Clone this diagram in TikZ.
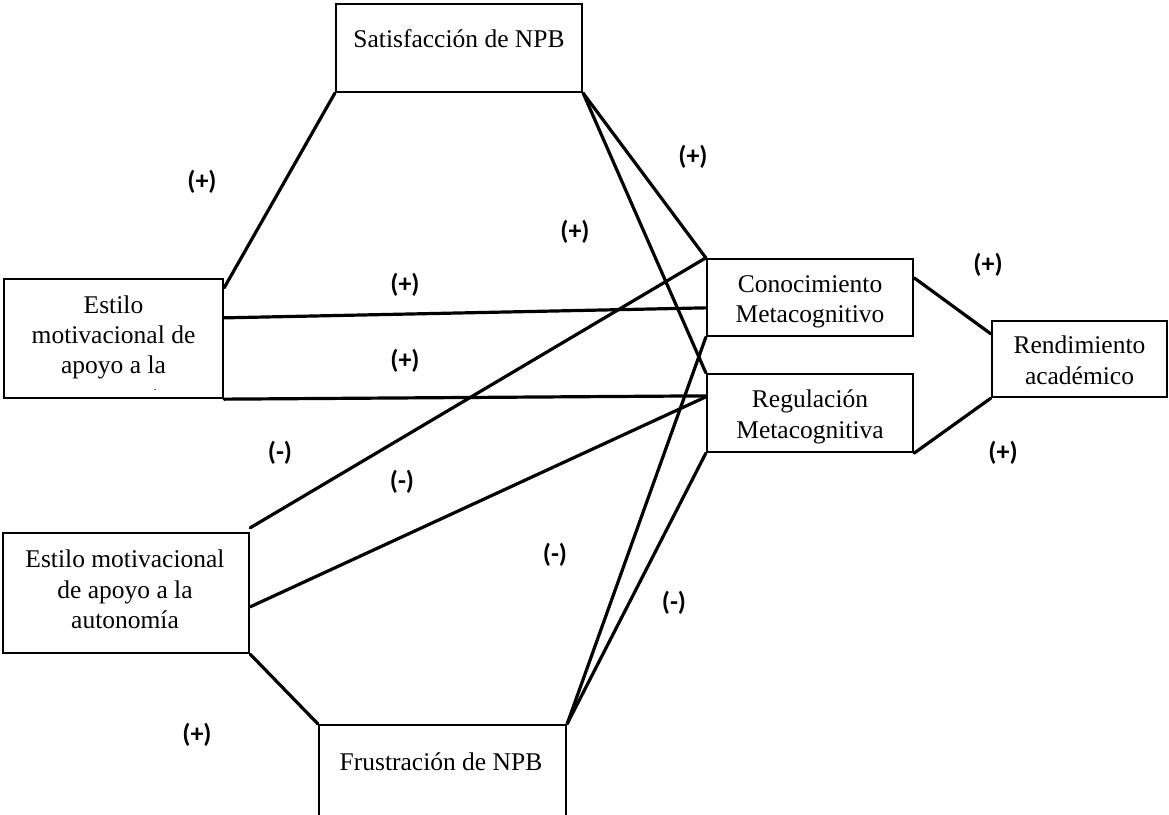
\documentclass[tikz,border=0pt]{standalone}
\usepackage{fontspec}
\setmainfont{Liberation Serif}
\newfontfamily\labfont{Carlito}
\usetikzlibrary{calc}
\begin{document}
\begin{tikzpicture}[x=1pt,y=-1pt,
  box/.style={draw, line width=2.3pt, inner sep=0pt},
  conn/.style={line width=3.2pt, line cap=round},
  txt/.style={anchor=base, inner sep=0pt, font=\fontsize{25.5}{30}\selectfont},
  sign/.style={inner sep=0pt, font=\labfont\bfseries\fontsize{26}{30}\selectfont}]
\clip (0,0) rectangle (1169,814);
\fill[white] (0,0) rectangle (1169,814);
% boxes
\node[box, minimum width=246pt, minimum height=88pt] (sat) at (459,48) {};
\node[box, minimum width=219pt, minimum height=119pt] (b1) at (113.5,338.5) {};
\node[box, minimum width=246pt, minimum height=120pt] (b2) at (126,593) {};
\node[box, minimum width=247pt, minimum height=120pt] (fru) at (442.5,785) {};
\node[box, minimum width=206pt, minimum height=77pt] (con) at (810,297.5) {};
\node[box, minimum width=206pt, minimum height=78pt] (reg) at (810,413) {};
\node[box, minimum width=175pt, minimum height=76pt] (ren) at (1079.5,359) {};
% texts
\node[txt] (tsat) at (459,47) {Satisfacción de NPB};
\node[txt] (tb1a) at (113.5,313) {Estilo};
\node[txt] (tb1b) at (113.5,343) {motivacional de};
\node[txt] (tb1c) at (113.5,373) {apoyo a la};
\node[txt, font=\fontsize{12}{14}\selectfont] (tb1d) at (155,390) {.};
\node[txt] (tb2a) at (125,567) {Estilo motivacional};
\node[txt] (tb2b) at (125,598) {de apoyo a la};
\node[txt] (tb2c) at (125,628) {autonomía};
\node[txt] (tfru) at (441,770) {Frustración de NPB};
\node[txt] (tcona) at (810,292) {Conocimiento};
\node[txt] (tconb) at (810,322) {Metacognitivo};
\node[txt] (trega) at (810,407) {Regulación};
\node[txt] (tregb) at (810,438) {Metacognitiva};
\node[txt] (trena) at (1079.5,353) {Rendimiento};
\node[txt] (trenb) at (1079.5,384) {académico};
% connectors
\draw[conn] ($(b1.north east)+(0,10)$) -- (sat.south west);
\draw[conn] (sat.south east) -- (con.north west);
\draw[conn] (sat.south east) -- (reg.north west);
\draw[conn] ($(b1.north east)+(0,40)$) -- ($(con.north west)+(0,50)$);
\draw[conn] (b1.south east) -- ($(reg.north west)+(0,23)$);
\draw[conn] ($(b2.north east)+(0,-4)$) -- (con.north west);
\draw[conn] ($(b2.north east)+(0,75)$) -- ($(reg.north west)+(0,24)$);
\draw[conn] (b2.south east) -- (fru.north west);
\draw[conn] (fru.north east) -- (con.south west);
\draw[conn] (fru.north east) -- (reg.south west);
\draw[conn] ($(con.north east)+(0,20)$) -- ($(ren.north west)+(0,14)$);
\draw[conn] (reg.south east) -- (ren.south west);
% signs
\node[sign] (s1) at (202,182) {(+)};
\node[sign] (s2) at (693,157) {(+)};
\node[sign] (s3) at (575,232) {(+)};
\node[sign] (s4) at (405,285) {(+)};
\node[sign] (s5) at (405,361) {(+)};
\node[sign] (s6) at (988,265) {(+)};
\node[sign] (s7) at (1003,453) {(+)};
\node[sign] (s8) at (280,453) {(-)};
\node[sign] (s9) at (402,482) {(-)};
\node[sign] (s10) at (555,555) {(-)};
\node[sign] (s11) at (674,603) {(-)};
\node[sign] (s12) at (197,735) {(+)};
\end{tikzpicture}
\end{document}
